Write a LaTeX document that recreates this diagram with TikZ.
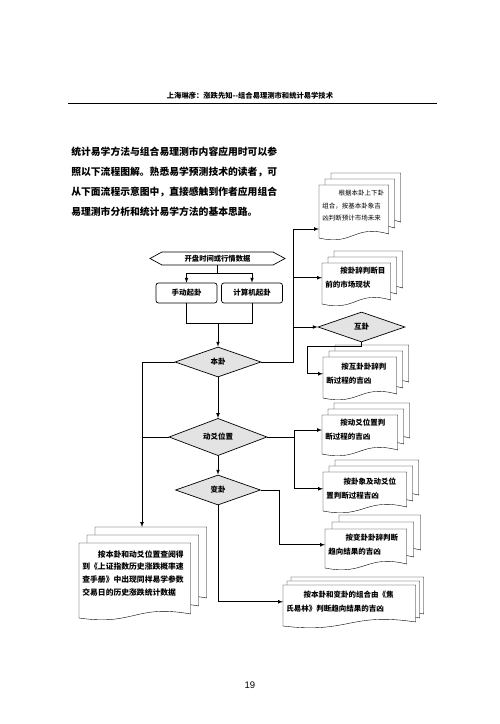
\documentclass[tikz,border=0pt]{standalone}
\usepackage{fontspec}
\newfontfamily\cjk{Noto Sans CJK SC}
\newfontfamily\numfont{Liberation Sans}
\usepackage{tikz}
\usetikzlibrary{arrows}
\usetikzlibrary{shapes.geometric,shapes.symbols}
\usetikzlibrary{calc,backgrounds}

% stack of three sheets behind a text node: [offset]{height}{node}
\newcommand\docstack[3][6]{%
  \begin{scope}[on background layer]
    \foreach \k in {2,1,0}{%
      \pgfmathsetmacro\shiftd{\k*#1}
      \path[sheet] let \p1=(#3.north west), \p2=(#3.north east) in
        (\x1+\shiftd,\y1+\shiftd) -- (\x2+\shiftd,\y1+\shiftd)
        -- (\x2+\shiftd,\y1+\shiftd-#2+6)
        .. controls (0.5*\x1+0.5*\x2+\shiftd,\y1+\shiftd-#2+16)
        and (0.5*\x1+0.5*\x2+\shiftd,\y1+\shiftd-#2-6) ..
        (\x1+\shiftd,\y1+\shiftd-#2+2) -- cycle;
    }
  \end{scope}}

\begin{document}
\begin{tikzpicture}[x=1pt,y=-1pt,>=latex,line width=0.7pt,
    decide/.style={diamond, draw, fill=gray!22, inner sep=0pt,
      minimum height=30pt, font={\cjk\bfseries\fontsize{7.5}{9}\selectfont}},
    pbox/.style={draw, rounded corners=2.5pt, minimum width=61pt,
      minimum height=20pt, inner sep=0pt,
      font={\cjk\bfseries\fontsize{7.5}{9}\selectfont}},
    doctext/.style={anchor=north west, align=left, inner xsep=3pt,
      inner ysep=6pt, font={\cjk\bfseries\fontsize{7.5}{13.5}\selectfont}},
    sheet/.style={draw, fill=white}]
  \useasboundingbox (0,0) rectangle (500,724);

  % page head
  \node[font={\cjk\bfseries\fontsize{7.3}{9}\selectfont}] (head) at (250,96)
    {上海琳彦：涨跌先知--组合易理测市和统计易学技术};
  \draw (68,103) -- (437,103);
  \node[anchor=west, align=left, inner sep=0pt,
    font={\cjk\bfseries\fontsize{9.8}{20}\selectfont}] (intro) at (71,181.5)
    {统计易学方法与组合易理测市内容应用时可以参\\
     照以下流程图解。熟悉易学预测技术的读者，可\\
     从下面流程示意图中，直接感触到作者应用组合\\
     易理测市分析和统计易学方法的基本思路。};

  % main column
  \node[signal, signal to=west and east, signal pointer angle=57, draw,
    minimum width=135pt, minimum height=13pt, inner sep=0pt,
    font={\cjk\bfseries\fontsize{7.3}{9}\selectfont}] (start) at (217.5,258.5)
    {开盘时间或行情数据};
  \node[pbox] (manual) at (186.5,293) {手动起卦};
  \node[pbox] (calc) at (252,293) {计算机起卦};
  \node[decide, minimum width=86pt] (bengua) at (218,362) {本卦};
  \node[decide, minimum width=98pt] (dongyao) at (218,437) {动爻位置};
  \node[decide, minimum width=85pt] (biangua) at (218,490) {变卦};
  \node[decide, minimum width=87pt] (hugua) at (361.5,327) {互卦};

  % documents
  \node[doctext, text width=63pt, inner ysep=5pt,
    font={\cjk\fontsize{6.5}{12.5}\selectfont}] (d1) at (319,185)
    {\hspace*{2.5em}根据本卦上下卦\\组合，按基本卦象吉\\凶判断预计市场未来};
  \docstack{55}{d1}
  \node[doctext, text width=62pt, inner ysep=4pt] (d2) at (322,263)
    {\hspace*{2em}按卦辞判断目\\前的市场现状};
  \docstack{43}{d2}
  \node[doctext, text width=67pt] (d3) at (323,357)
    {\hspace*{2em}按互卦卦辞判\\断过程的吉凶};
  \docstack{43}{d3}
  \node[doctext, text width=69pt, inner ysep=4pt] (d4) at (322,415)
    {\hspace*{2em}按动爻位置判\\断过程的吉凶};
  \docstack{41}{d4}
  \node[doctext, text width=77pt] (d5) at (323,472)
    {\hspace*{2.3em}按卦象及动爻位\\置判断过程吉凶};
  \docstack{41}{d5}
  \node[doctext, text width=75pt, inner ysep=5pt] (d6) at (325,529)
    {\hspace*{2.3em}按变卦卦辞判断\\趋向结果的吉凶};
  \docstack[7]{41}{d6}
  \node[doctext, text width=126pt] (d7) at (283,585)
    {\hspace*{2.3em}按本卦和变卦的组合由《焦\\氏易林》判断趋向结果的吉凶};
  \docstack[4]{43}{d7}
  \node[doctext, text width=105pt, inner ysep=7pt,
    font={\cjk\bfseries\fontsize{7.8}{12.7}\selectfont}] (d8) at (79,543)
    {\hspace*{2em}按本卦和动爻位置查阅得\\到《上证指数历史涨跌概率速\\
     查手册》中出现同样易学参数\\交易日的历史涨跌统计数据};
  \docstack[8]{77}{d8}

  % joints
  \coordinate (mj) at (218,323);
  \coordinate (k1) at (293,229);
  \coordinate (hl) at (307,346);
  \coordinate (k4) at (294,430);
  \coordinate (k8) at (142,527);

  % connectors
  \draw[->] (start.south) -- ++(0,8) -| (manual.north);
  \draw[->] (start.south) -- ++(0,8) -| (calc.north);
  \draw (manual.south) |- (mj);
  \draw (calc.south) |- (mj);
  \draw[->] (mj) -- (bengua.north);
  \draw[->] (bengua.south) -- (dongyao.north);
  \draw[->] (dongyao.south) -- (biangua.north);
  \draw (bengua.east) -| (k1);
  \draw[->] (k1) -- (k1 -| d1.west);
  \draw[->] (k1 |- d2.west) -- (d2.west);
  \draw[->] (k1 |- hugua.west) -- (hugua.west);
  \draw[->] (hugua.south) |- (hl) |- (d3.west);
  \draw (dongyao.east) -- (dongyao.east -| k4);
  \draw[->] (k4) -- (k4 -| d4.west);
  \draw[->] (k4) |- (d5.west);
  \draw[->] (biangua.east) -- ++(18,0) |- (d6.west);
  \draw[->] (biangua.south) |- (d7.west);
  \draw[->] (bengua.west) -| (k8);
  \draw (dongyao.west) -- (dongyao.west -| k8);

  \node[font={\numfont\fontsize{9.5}{11}\selectfont}] (page) at (250,685) {19};
\end{tikzpicture}
\end{document}
